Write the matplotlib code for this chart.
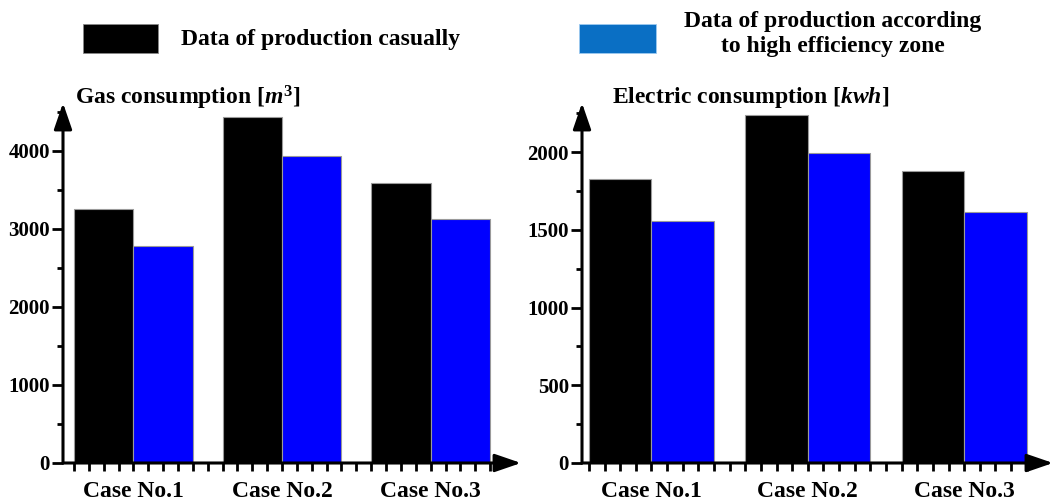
import matplotlib
matplotlib.use("Agg")
import matplotlib.pyplot as plt
from matplotlib.patches import Rectangle
import numpy as np

# values
cases = ["Case No.1", "Case No.2", "Case No.3"]
gas_casual = [3260, 4430, 3590]
gas_efficient = [2780, 3940, 3130]
elec_casual = [1830, 2240, 1880]
elec_efficient = [1560, 1995, 1615]

gas_ticks = [0, 1000, 2000, 3000, 4000]
elec_ticks = [0, 500, 1000, 1500, 2000]

legend_labels = ["Data of production casually",
                 "Data of production according\nto high efficiency zone"]

plt.rcParams["font.family"] = ["Liberation Serif", "DejaVu Serif"]
plt.rcParams["font.weight"] = "bold"
plt.rcParams["mathtext.fontset"] = "custom"
plt.rcParams["mathtext.rm"] = "Liberation Serif:bold"
plt.rcParams["mathtext.it"] = "Liberation Serif:italic:bold"

W, H = 1063, 504
fig = plt.figure(figsize=(W / 100, H / 100), dpi=100)


def px_axes(x0, x1, y_top, y_bot):
    return fig.add_axes([x0 / W, 1 - y_bot / H, (x1 - x0) / W, (y_bot - y_top) / H])


def draw_panel(ax, casual, efficient, xlim, ylim, yticks):
    centers = np.arange(len(cases)) * 2.5
    ax.bar(centers - 0.5, casual, width=1.0, color="black", edgecolor="#9a9a9a", linewidth=0.8)
    ax.bar(centers + 0.5, efficient, width=1.0, color="#0000ff", edgecolor="#9a9a9a", linewidth=0.8)

    for s in ax.spines.values():
        s.set_visible(False)
    arrow = dict(arrowstyle="-|>,head_length=16,head_width=5.5", mutation_scale=1,
                 lw=2.2, color="black", shrinkA=0, shrinkB=0)
    ax.annotate("", xy=(1, 0), xytext=(0, 0), xycoords="axes fraction",
                arrowprops=arrow, annotation_clip=False)
    ax.annotate("", xy=(0, 1), xytext=(0, 0), xycoords="axes fraction",
                arrowprops=arrow, annotation_clip=False)

    step = yticks[1] - yticks[0]
    ax.set_yticks(yticks)
    ax.set_yticks([t + step / 2 for t in yticks], minor=True)
    ax.tick_params(axis="y", which="major", direction="out", length=8, width=2,
                   labelsize=15, pad=1.5)
    ax.tick_params(axis="y", which="minor", direction="out", length=4.5, width=2)

    ax.set_xticks(centers)
    ax.set_xticklabels(cases)
    ax.set_xticks(np.arange(-1, 6.01, 0.25), minor=True)
    ax.tick_params(axis="x", which="both", direction="out", length=6, width=2,
                   labelsize=17, pad=7)
    for t in ax.get_xticklabels() + ax.get_yticklabels():
        t.set_fontweight("bold")
    ax.set_xlim(*xlim)
    ax.set_ylim(*ylim)
    ax.set_facecolor("none")


ax1 = px_axes(63, 521, 103, 463)
draw_panel(ax1, gas_casual, gas_efficient, (-1.185, 6.52), (0, 4615), gas_ticks)
ax2 = px_axes(582, 1053, 103, 463)
draw_panel(ax2, elec_casual, elec_efficient, (-1.11, 6.42), (0, 2317), elec_ticks)

fig.text(75 / W, 1 - 98 / H, r"Gas consumption [$m^3$]", fontsize=17,
         fontweight="bold", ha="left", va="center")
fig.text(612 / W, 1 - 98 / H, r"Electric consumption [$kwh$]", fontsize=17,
         fontweight="bold", ha="left", va="center")

# legend
fig.patches.append(Rectangle((83 / W, 1 - 53 / H), 75 / W, 29 / H,
                             transform=fig.transFigure, facecolor="black",
                             edgecolor="#888888", lw=0.6))
fig.patches.append(Rectangle((579 / W, 1 - 53 / H), 77 / W, 29 / H,
                             transform=fig.transFigure, facecolor="#0a6fc4",
                             edgecolor="#9ccaf0", lw=0.6))
fig.text(181 / W, 1 - 39 / H, legend_labels[0], fontsize=17, fontweight="bold",
         ha="left", va="center")
fig.text(833 / W, 1 - 34 / H, legend_labels[1], fontsize=17, fontweight="bold",
         ha="center", va="center", linespacing=1.3)

fig.savefig("out.png", dpi=100)
